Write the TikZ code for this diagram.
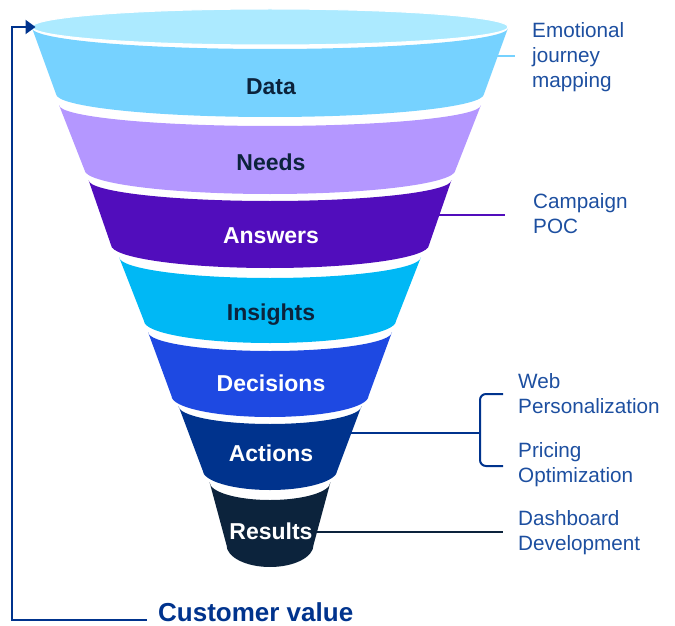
\documentclass[tikz,border=0pt]{standalone}
\usepackage{fontspec}
\setmainfont{Liberation Sans}
\usetikzlibrary{shapes.geometric,arrows.meta}

\definecolor{rimC}{HTML}{ACEAFF}
\definecolor{dataC}{HTML}{76D2FF}
\definecolor{needsC}{HTML}{B497FF}
\definecolor{answersC}{HTML}{510DBC}
\definecolor{insightsC}{HTML}{00B8F5}
\definecolor{decisionsC}{HTML}{1E49E2}
\definecolor{actionsC}{HTML}{00338D}
\definecolor{resultsC}{HTML}{0C233C}
\definecolor{noteC}{HTML}{1D4FA0}

\begin{document}
\begin{tikzpicture}[x=1pt,y=1pt,
	lbl/.style={font=\bfseries\fontsize{23}{26}\selectfont, text height=17pt, text depth=0pt, inner sep=0pt},
	note/.style={anchor=north west, align=left, inner sep=0pt, text=noteC, font=\fontsize{20.7}{25}\selectfont},
	link/.style={line width=2pt}]
	\useasboundingbox (0,0) rectangle (675,-626);

	% texts on the right
	\node at (532,-22) [note] (journey) {Emotional\\journey\\mapping};
	\node at (533,-193) [note] (campaign) {Campaign\\POC};
	\node at (518,-373) [note] (web) {Web\\Personalization};
	\node at (518,-442) [note] (pricing) {Pricing\\Optimization};
	\node at (518,-510) [note] (dashboard) {Dashboard\\Development};
	\node at (158,-612) [anchor=west, inner sep=0pt, text=actionsC, font=\bfseries\fontsize{26}{30}\selectfont] (value) {Customer value};

	\coordinate (dataR) at (495,-56);
	\coordinate (answersR) at (437,-215);
	\coordinate (actionsR) at (349,-433);
	\coordinate (resultsR) at (315,-532);
	\coordinate (brMid) at (480,-433);
	\coordinate (brTop) at (503,-394);
	\coordinate (brBot) at (503,-466);
	\coordinate (valueL) at (147,-620);

	% connectors (behind the funnel)
	\draw [link, dataC, line width=2.5pt, shorten >=17pt] (dataR) -- (dataR -| journey.west);
	\draw [link, answersC, shorten >=28pt] (answersR) -- (answersR -| campaign.west);
	\draw [link, actionsC] (actionsR) -- (brMid);
	\draw [link, actionsC, rounded corners=6pt] (brTop) -| (brMid) |- (brBot);
	\draw [link, resultsC, shorten >=15pt] (resultsR) -- (resultsR -| dashboard.west);

	% funnel bands
	\fill [dataC] (32,-28) arc[start angle=180, end angle=360, x radius=238, y radius=21] -- (484,-94) arc[start angle=0, end angle=-180, x radius=214, y radius=23] -- cycle;
	\fill [needsC] (59,-105) arc[start angle=180, end angle=360, x radius=211, y radius=21] -- (455.5,-170) arc[start angle=0, end angle=-180, x radius=185.5, y radius=24] -- cycle;
	\fill [answersC] (88.5,-180) arc[start angle=180, end angle=360, x radius=181.5, y radius=21] -- (429,-245) arc[start angle=0, end angle=-180, x radius=159, y radius=23] -- cycle;
	\fill [insightsC] (119,-257) arc[start angle=180, end angle=360, x radius=151, y radius=21] -- (396,-321) arc[start angle=0, end angle=-180, x radius=126, y radius=22] -- cycle;
	\fill [decisionsC] (148,-332) arc[start angle=180, end angle=360, x radius=122, y radius=19] -- (368.5,-396) arc[start angle=0, end angle=-180, x radius=98.5, y radius=21] -- cycle;
	\fill [actionsC] (178.5,-406) arc[start angle=180, end angle=360, x radius=91.5, y radius=18] -- (337.5,-470) arc[start angle=0, end angle=-180, x radius=67.5, y radius=20] -- cycle;
	\fill [resultsC] (209.5,-482) arc[start angle=180, end angle=360, x radius=60.5, y radius=18] -- (313.5,-545) arc[start angle=0, end angle=-180, x radius=43.5, y radius=22] -- cycle;
	\node at (270,-27) [ellipse, fill=rimC, draw=white, line width=1pt, minimum width=476pt, minimum height=36pt, inner sep=0pt] (rim) {};

	% band labels
	\node at (271,-86) [lbl, text=resultsC] (data) {Data};
	\node at (271,-162) [lbl, text=resultsC] (needs) {Needs};
	\node at (271,-235) [lbl, text=white] (answers) {Answers};
	\node at (271,-312) [lbl, text=resultsC] (insights) {Insights};
	\node at (271,-383) [lbl, text=white] (decisions) {Decisions};
	\node at (271,-453) [lbl, text=white] (actions) {Actions};
	\node at (271,-531) [lbl, text=white] (results) {Results};

	% feedback loop
	\draw [link, actionsC, -{Triangle[length=10pt,width=14pt]}] (valueL) -| ([xshift=-20pt]rim.west) -- ([xshift=4pt]rim.west);
\end{tikzpicture}
\end{document}
